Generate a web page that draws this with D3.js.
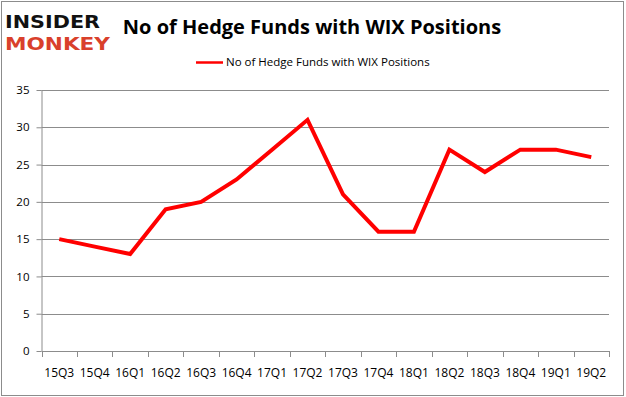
<!DOCTYPE html>
<html><head><meta charset="utf-8">
<script src="https://cdn.jsdelivr.net/npm/d3@7"></script>
<style>body{margin:0;background:#fff;}svg{display:block;font-family:"Open Sans",sans-serif;}</style>
</head><body>
<script>
const categories = ["15Q3","15Q4","16Q1","16Q2","16Q3","16Q4","17Q1","17Q2","17Q3","17Q4","18Q1","18Q2","18Q3","18Q4","19Q1","19Q2"];
const values = [15,14,13,19,20,23,27,31,21,16,16,27,24,27,27,26];
const yTicks = [0,5,10,15,20,25,30,35];
const seriesName = "No of Hedge Funds with WIX Positions";
const title = "No of Hedge Funds with WIX Positions";

const W = 626, H = 397;
const svg = d3.select("body").append("svg").attr("width", W).attr("height", H);
svg.append("rect").attr("x",1.5).attr("y",1.5).attr("width",W-4).attr("height",H-3).attr("fill","#fff").attr("stroke","#8c8c8c").attr("stroke-width",1);

const L = 41.5, R = 609, T = 90, B = 351;
const x = d3.scaleBand().domain(categories).range([L, R]);
const y = d3.scaleLinear().domain([0,35]).range([B, T]);

// gridlines
svg.append("g").selectAll("line").data(yTicks.filter(d=>d>0)).join("line")
  .attr("x1", L).attr("x2", R).attr("y1", d=>Math.round(y(d))+0.5).attr("y2", d=>Math.round(y(d))+0.5)
  .attr("stroke","#8c8c8c").attr("stroke-width",1);

// y axis
const yAxis = svg.append("g").attr("transform",`translate(${L},0)`)
  .call(d3.axisLeft(y).tickValues(yTicks).tickSize(5).tickPadding(7));
yAxis.select(".domain").attr("stroke","#8c8c8c").attr("d", `M0.5,${T}V${B}`);
yAxis.selectAll(".tick line").attr("stroke","#8c8c8c");
yAxis.selectAll("text").attr("font-size",11.5).attr("fill","#000").attr("font-family","Open Sans");

// x axis
const xAxis = svg.append("g").attr("transform",`translate(0,${Math.round(B)+0.5})`)
  .call(d3.axisBottom(x).tickSize(0).tickPadding(17));
xAxis.select(".domain").attr("stroke","#8c8c8c").attr("d",`M${L},0H${R}`);
xAxis.selectAll("text").attr("font-size",12).attr("fill","#000").attr("font-family","Open Sans");
// boundary ticks
const bounds = categories.map(c=>x(c)).concat([R]);
svg.append("g").selectAll("line").data(bounds).join("line")
  .attr("x1",d=>Math.round(d)+0.5).attr("x2",d=>Math.round(d)+0.5)
  .attr("y1",Math.round(B)).attr("y2",Math.round(B)+6).attr("stroke","#8c8c8c");

// line
const line = d3.line().x((d,i)=>x(categories[i])+x.bandwidth()/2).y(d=>y(d));
svg.append("path").datum(values).attr("d",line).attr("fill","none")
  .attr("stroke","#ff0000").attr("stroke-width",4).attr("stroke-linejoin","miter");

// title
svg.append("text").attr("x",312).attr("y",34).attr("text-anchor","middle")
  .attr("font-size",20).attr("font-weight","bold").attr("fill","#000").text(title);

// legend
svg.append("line").attr("x1",196).attr("x2",223).attr("y1",62.5).attr("y2",62.5).attr("stroke","#ff0000").attr("stroke-width",2.5);
svg.append("text").attr("x",226).attr("y",66).attr("font-size",11.5).attr("fill","#000").text(seriesName);

// logo
svg.append("text").attr("x",5).attr("y",28).attr("font-size",18.5).attr("font-weight","bold")
  .attr("font-family","DejaVu Sans").attr("textLength",95).attr("lengthAdjust","spacingAndGlyphs").attr("fill","#111").text("INSIDER");
svg.append("text").attr("x",5).attr("y",50).attr("font-size",18.5).attr("font-weight","bold")
  .attr("font-family","DejaVu Sans").attr("textLength",105).attr("lengthAdjust","spacingAndGlyphs").attr("fill","#d9402b").text("MONKEY");
</script>
</body></html>
